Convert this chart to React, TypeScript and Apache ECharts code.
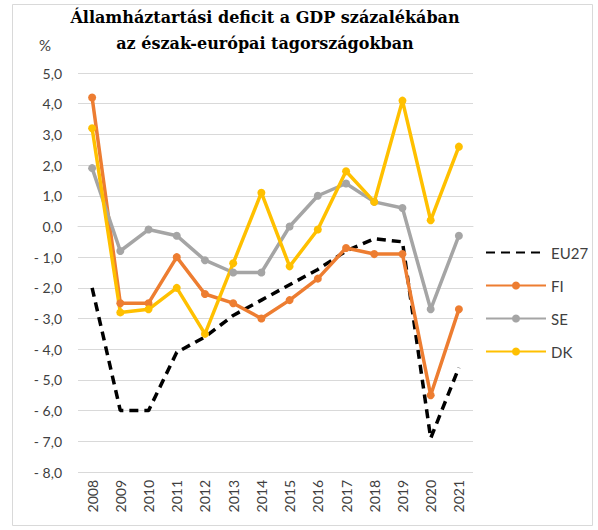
import React, { useEffect, useRef } from "react";
import * as echarts from "echarts";

const years = ["2008","2009","2010","2011","2012","2013","2014","2015","2016","2017","2018","2019","2020","2021"];
const eu27 = [-2.0, -6.0, -6.0, -4.1, -3.6, -2.9, -2.4, -1.9, -1.4, -0.8, -0.4, -0.5, -6.9, -4.6];
const fi = [4.2, -2.5, -2.5, -1.0, -2.2, -2.5, -3.0, -2.4, -1.7, -0.7, -0.9, -0.9, -5.5, -2.7];
const se = [1.9, -0.8, -0.1, -0.3, -1.1, -1.5, -1.5, 0.0, 1.0, 1.4, 0.8, 0.6, -2.7, -0.3];
const dk = [3.2, -2.8, -2.7, -2.0, -3.5, -1.2, 1.1, -1.3, -0.1, 1.8, 0.8, 4.1, 0.2, 2.6];

const fmt = (v: number) => {
  const s = Math.abs(v).toFixed(1).replace(".", ",");
  return v < 0 ? "- " + s : s;
};

export default function App() {
  const ref = useRef<HTMLDivElement>(null);
  useEffect(() => {
    const chart = echarts.init(ref.current!, null, { renderer: "svg" });
    const lineSeries = (name: string, data: number[], color: string) => ({
      name,
      type: "line",
      data,
      symbol: "circle",
      symbolSize: 8,
      itemStyle: { color },
      lineStyle: { color, width: 3.5 },
    });
    const titleStyle = {
      fontFamily: "DejaVu Serif",
      fontWeight: "bold",
      fontSize: 16,
      fill: "#000",
      align: "center",
      verticalAlign: "middle",
    };
    chart.setOption({
      animation: false,
      backgroundColor: "#ffffff",
      graphic: [
        {
          type: "rect",
          shape: { x: 12.5, y: 4.5, width: 580, height: 521 },
          style: { fill: "none", stroke: "#d9d9d9", lineWidth: 1 },
          silent: true,
        },
        {
          type: "text",
          x: 265,
          y: 17,
          style: { ...titleStyle, text: "Államháztartási deficit a GDP százalékában" },
        },
        {
          type: "text",
          x: 265,
          y: 43,
          style: { ...titleStyle, text: "az észak-európai tagországokban" },
        },
        {
          type: "text",
          x: 45,
          y: 45,
          style: {
            text: "%",
            fontFamily: "Lato",
            fontSize: 15,
            fill: "#404040",
            align: "center",
            verticalAlign: "middle",
          },
        },
      ],
      grid: { left: 78, right: 125, top: 73, bottom: 58 },
      xAxis: {
        type: "category",
        data: years,
        boundaryGap: true,
        axisLine: { show: true, lineStyle: { color: "#d9d9d9" } },
        axisTick: { show: false },
        axisLabel: { rotate: 90, fontFamily: "Lato", fontSize: 14, color: "#404040", margin: 8 },
      },
      yAxis: {
        type: "value",
        min: -8,
        max: 5,
        interval: 1,
        axisLine: { show: false },
        axisTick: { show: false },
        splitLine: { lineStyle: { color: "#d9d9d9", width: 1 } },
        axisLabel: {
          formatter: (v: number) => fmt(v),
          fontFamily: "Lato",
          fontSize: 14,
          color: "#404040",
          margin: 16,
        },
      },
      legend: {
        orient: "vertical",
        left: 480,
        top: 240,
        itemWidth: 60,
        itemHeight: 10,
        itemGap: 18,
        textStyle: { fontFamily: "Lato", fontSize: 15, color: "#404040" },
        data: [
          { name: "EU27", itemStyle: { opacity: 0 } },
          "FI",
          "SE",
          "DK",
        ],
      },
      series: [
        {
          name: "EU27",
          type: "line",
          data: eu27,
          symbol: "none",
          itemStyle: { color: "#000000" },
          lineStyle: { color: "#000000", width: 3.5, type: [9, 6] },
          z: 1,
        },
        lineSeries("FI", fi, "#ED7D31"),
        lineSeries("SE", se, "#A5A5A5"),
        lineSeries("DK", dk, "#FFC000"),
      ],
    });
    return () => chart.dispose();
  }, []);
  return (
    <div
      ref={ref}
      style={{ position: "fixed", left: 0, top: 0, width: 598, height: 530, background: "#fff" }}
    />
  );
}
